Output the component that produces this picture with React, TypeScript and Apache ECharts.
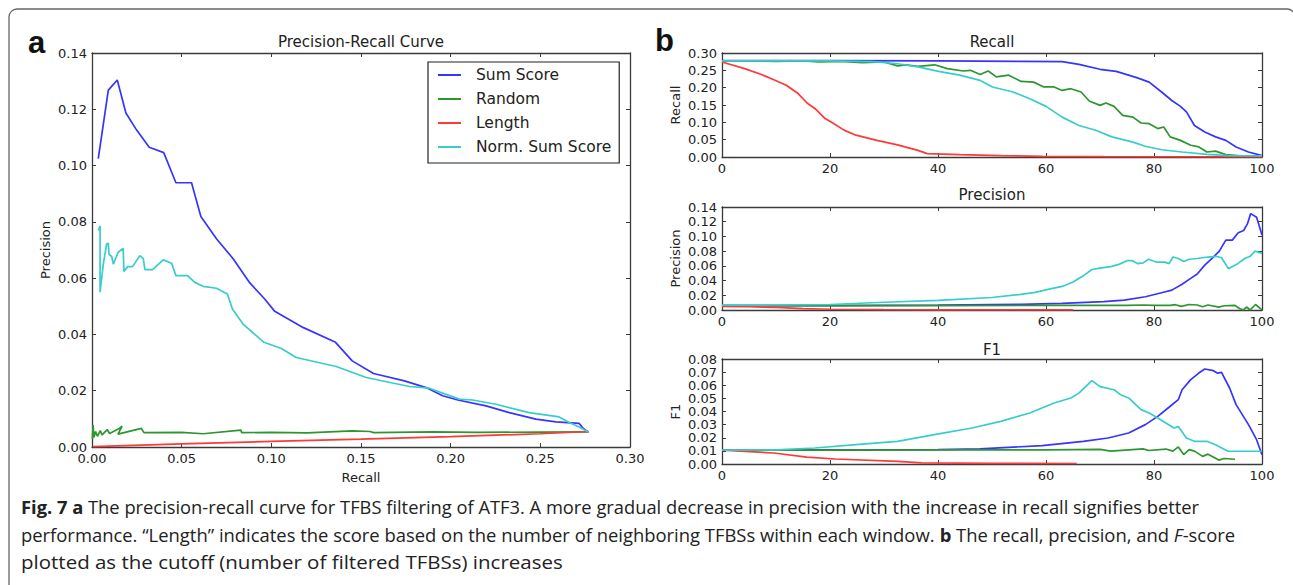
import React, { useEffect, useRef } from "react";
import * as echarts from "echarts";

// ---------- data ----------
const seriesNames = ["Sum Score", "Random", "Length", "Norm. Sum Score"];
const seriesColors = ["#3535ff", "#2e962e", "#ff3838", "#38cccc"];

// Panel a: [recall, precision]
const prSumScore = [
  [0.0035, 0.1025], [0.0091, 0.1268], [0.0141, 0.1304], [0.0189, 0.1187], [0.0249, 0.1126],
  [0.0319, 0.1065], [0.04, 0.1046], [0.0468, 0.0939], [0.0555, 0.0939], [0.0607, 0.0819],
  [0.0694, 0.074], [0.0787, 0.0669], [0.088, 0.0583], [0.0963, 0.0526], [0.1019, 0.0482],
  [0.1176, 0.0425], [0.1358, 0.0372], [0.1451, 0.0306], [0.157, 0.0261], [0.1742, 0.0235],
  [0.1872, 0.0209], [0.1955, 0.0182], [0.204, 0.0167], [0.2197, 0.0146], [0.2327, 0.0122],
  [0.2475, 0.0099], [0.2587, 0.0089], [0.2716, 0.0084], [0.2735, 0.0069], [0.2768, 0.0053],
];
const prRandom = [
  [0.0002, 0.0027], [0.0006, 0.0078], [0.0011, 0.0035], [0.002, 0.0055], [0.003, 0.0038],
  [0.0046, 0.0058], [0.0056, 0.0043], [0.0085, 0.0062], [0.0098, 0.0048], [0.0152, 0.0066],
  [0.0168, 0.0074], [0.0145, 0.0046], [0.0275, 0.0066], [0.029, 0.0051], [0.05, 0.0052],
  [0.062, 0.0047], [0.083, 0.006], [0.0835, 0.0051], [0.1, 0.0052], [0.12, 0.005],
  [0.145, 0.0057], [0.155, 0.0055], [0.157, 0.0051], [0.19, 0.0054], [0.215, 0.0052],
  [0.25, 0.0053], [0.277, 0.0054],
];
const prLength = [
  [0.0005, 0.0001], [0.05, 0.0011], [0.1, 0.002], [0.15, 0.0028], [0.2, 0.0037],
  [0.25, 0.0047], [0.277, 0.0055],
];
const prNormSum = [
  [0.0035, 0.077], [0.0045, 0.0785], [0.0045, 0.055], [0.0063, 0.065], [0.0082, 0.0722],
  [0.0091, 0.0724], [0.0095, 0.0684], [0.011, 0.0677], [0.0119, 0.065], [0.0146, 0.0692],
  [0.0174, 0.0706], [0.0178, 0.0624], [0.0199, 0.0641], [0.0226, 0.0641], [0.0267, 0.068],
  [0.0286, 0.0669], [0.0295, 0.063], [0.0338, 0.063], [0.0397, 0.0665], [0.0444, 0.0653],
  [0.0468, 0.0609], [0.0533, 0.0609], [0.0573, 0.0585], [0.062, 0.0571], [0.0694, 0.0564],
  [0.0755, 0.0544], [0.0783, 0.049], [0.0842, 0.0437], [0.0959, 0.0372], [0.1056, 0.035],
  [0.1139, 0.0318], [0.1362, 0.0286], [0.1529, 0.0247], [0.177, 0.0215], [0.1881, 0.0209],
  [0.2048, 0.017], [0.2122, 0.0167], [0.2253, 0.0152], [0.2438, 0.0122], [0.2605, 0.0107],
  [0.2661, 0.0087], [0.2716, 0.0071], [0.2768, 0.0053],
];

// Panel b: [cutoff, value]
const recSumScore = [
  [0, 0.278], [20, 0.278], [40, 0.277], [55, 0.276], [63, 0.275], [66.1, 0.267], [70, 0.253],
  [73, 0.247], [76.8, 0.229], [79.1, 0.216], [81.4, 0.1875], [83.3, 0.163], [84.9, 0.146],
  [86, 0.13], [87.5, 0.091], [89.4, 0.072], [91.4, 0.058], [93.3, 0.048], [95.2, 0.029],
  [97.5, 0.0144], [100, 0.004],
];
const recRandom = [
  [0, 0.277], [5, 0.277], [10, 0.276], [15, 0.277], [18, 0.274], [22, 0.276], [26, 0.272],
  [30, 0.274], [32.5, 0.263], [34, 0.266], [36.3, 0.2615], [39.4, 0.266], [41.7, 0.255],
  [44.7, 0.248], [46, 0.25], [47.8, 0.238], [49.3, 0.248], [50.8, 0.231], [53.1, 0.236],
  [55.4, 0.218], [57.7, 0.216], [59.6, 0.202], [61.5, 0.202], [63, 0.192], [64.6, 0.197],
  [66.5, 0.1875], [68, 0.1615], [70, 0.149], [71.1, 0.156], [72.6, 0.146], [74.2, 0.12],
  [76.1, 0.115], [77.6, 0.098], [79.1, 0.096], [80.7, 0.082], [81.8, 0.0865], [83, 0.058],
  [84.9, 0.048], [86.8, 0.034], [88.3, 0.029], [89.8, 0.0144], [91.4, 0.017], [93.3, 0.0067],
  [96, 0.003], [100, 0.002],
];
const recLength = [
  [0, 0.274], [4.2, 0.255], [7.3, 0.238], [9.6, 0.223], [11.9, 0.207], [14.1, 0.183],
  [15.8, 0.155], [17.2, 0.14], [19, 0.112], [20.3, 0.1], [22.6, 0.0775], [24.8, 0.063],
  [28.7, 0.048], [32.5, 0.035], [36.3, 0.019], [38, 0.0096], [44, 0.0067], [51.6, 0.004],
  [59.3, 0.002], [70.7, 0.001], [100, 0.0005],
];
const recNormSum = [
  [0, 0.277], [10, 0.277], [20, 0.277], [28, 0.275], [32.5, 0.269], [36.3, 0.26], [40.1, 0.247],
  [44, 0.236], [47.8, 0.221], [50.1, 0.202], [53.9, 0.1875], [57, 0.168], [60, 0.146],
  [63, 0.115], [66.1, 0.091], [69.2, 0.077], [72.2, 0.058], [76.1, 0.043], [78.4, 0.031],
  [81.4, 0.021], [85.2, 0.0144], [89.8, 0.0077], [93.7, 0.004], [100, 0.003],
];

const precSumScore = [
  [0, 0.006], [20, 0.006], [40, 0.0065], [55.4, 0.0077], [63, 0.009], [70.7, 0.0113],
  [74.5, 0.0135], [78.4, 0.018], [81.4, 0.0235], [83.3, 0.027], [85.2, 0.035], [86.8, 0.043],
  [88, 0.049], [89.4, 0.061], [91, 0.072], [92.1, 0.08], [93.3, 0.095], [94.5, 0.095],
  [95.6, 0.105], [96.6, 0.108], [97.3, 0.117], [97.9, 0.131], [99, 0.126], [100, 0.102],
];
const precRandom = [
  [0, 0.006], [20, 0.006], [40, 0.006], [60, 0.0062], [75, 0.0062], [78, 0.0068], [80, 0.0062],
  [83, 0.0062], [84, 0.0072], [85, 0.005], [86.5, 0.0075], [88, 0.0068], [89, 0.0045],
  [90, 0.0068], [92, 0.004], [93, 0.0058], [95, 0.0063], [95.8, 0.002], [96.5, 0.0002],
  [97.2, 0.004], [97.8, 0.0], [98.8, 0.0075], [100, 0.0002],
];
const precLength = [
  [0, 0.005], [5, 0.0045], [10, 0.0035], [15, 0.002], [20, 0.001], [30, 0.0005],
  [40, 0.0002], [65, 0.0001],
];
const precNormSum = [
  [0, 0.0065], [10, 0.0068], [20, 0.0075], [30, 0.0105], [40, 0.013], [50, 0.017], [55, 0.021],
  [58, 0.024], [61, 0.029], [63, 0.032], [65, 0.038], [67, 0.047], [68.5, 0.055], [70, 0.057],
  [72, 0.059], [73.5, 0.062], [75, 0.067], [76, 0.067], [77, 0.063], [78, 0.064], [79, 0.069],
  [80.5, 0.065], [82, 0.065], [82.8, 0.063], [83.5, 0.072], [84.5, 0.07], [85.5, 0.066],
  [86.5, 0.069], [88, 0.07], [90, 0.072], [91.5, 0.073], [92.5, 0.071], [93.8, 0.056],
  [95.5, 0.063], [96.8, 0.07], [97.8, 0.073], [98.7, 0.08], [100, 0.077],
];

const f1SumScore = [
  [0, 0.0105], [20, 0.0107], [40, 0.011], [47.8, 0.0115], [59.3, 0.014], [66.9, 0.0173],
  [71.5, 0.0198], [75.3, 0.0236], [78.4, 0.03], [80.7, 0.0363], [83, 0.044], [84.5, 0.049],
  [85.2, 0.0566], [86.8, 0.0643], [88.3, 0.0693], [89.4, 0.0724], [91, 0.0711], [91.7, 0.0693],
  [92.5, 0.0698], [94, 0.0579], [95.2, 0.0452], [97.5, 0.03], [99, 0.0185], [100, 0.0071],
];
const f1Random = [
  [0, 0.0105], [20, 0.0105], [40, 0.0107], [60, 0.0108], [70, 0.0112], [72, 0.0098],
  [78, 0.0115], [79, 0.0103], [82.2, 0.0114], [83.5, 0.0098], [84.5, 0.013], [85.5, 0.0072],
  [86.5, 0.011], [87.5, 0.0098], [89, 0.0058], [90, 0.0075], [92, 0.003], [93, 0.0042],
  [95, 0.0036],
];
const f1Length = [
  [0, 0.0105], [9.6, 0.0084], [15.7, 0.0053], [21, 0.0038], [32.5, 0.002], [37, 0.0008],
  [50, 0.0005], [65.7, 0.0004],
];
const f1NormSum = [
  [0, 0.0105], [10, 0.0108], [17.2, 0.0122], [24.8, 0.0147], [32.5, 0.0173], [40.1, 0.0229],
  [46.3, 0.0274], [51.6, 0.0325], [57, 0.0389], [61.5, 0.0465], [64.6, 0.0503], [66.1, 0.054],
  [68.5, 0.0635], [70, 0.059], [72.6, 0.0566], [73.8, 0.0528], [75.3, 0.0503], [77.6, 0.0414],
  [79.1, 0.0389], [80.7, 0.035], [82.2, 0.0312], [83.7, 0.0274], [84.5, 0.0285], [86, 0.0198],
  [87.5, 0.0173], [89.8, 0.0173], [91.4, 0.0147], [93.7, 0.0097], [100, 0.0097],
];

const panelA = [prSumScore, prRandom, prLength, prNormSum];
const panelRecall = [recSumScore, recRandom, recLength, recNormSum];
const panelPrecision = [precSumScore, precRandom, precLength, precNormSum];
const panelF1 = [f1SumScore, f1Random, f1Length, f1NormSum];

const captionLine1Bold = "Fig. 7 a";
const captionLine1 = " The precision-recall curve for TFBS filtering of ATF3. A more gradual decrease in precision with the increase in recall signifies better";
const captionLine2a = "performance. \u201cLength\u201d indicates the score based on the number of neighboring TFBSs within each window. ";
const captionLine2b = "b";
const captionLine2c = " The recall, precision, and ";
const captionLine2d = "F";
const captionLine2e = "-score";
const captionLine3 = "plotted as the cutoff (number of filtered TFBSs) increases";

// ---------- chart ----------
const FONT = "DejaVu Sans";
const AXC = "#3a3a3a";
const TXT = "#222";

function axisPair(kind: "x" | "y", grid: number, min: number, max: number, interval: number, digits: number, name: string, nameGap: number) {
  const base = {
    type: "value",
    gridIndex: grid,
    min, max, interval,
    splitLine: { show: false },
    axisLine: { show: true, onZero: false, lineStyle: { color: AXC, width: 1.3 } },
    axisTick: { show: true, inside: true, length: 4, lineStyle: { color: AXC, width: 1 } },
  };
  const main = {
    ...base,
    position: kind === "x" ? "bottom" : "left",
    name,
    nameLocation: "middle",
    nameGap,
    nameTextStyle: { fontFamily: FONT, fontSize: 13, color: TXT },
    axisLabel: {
      show: true, margin: 5, fontFamily: FONT, fontSize: 13, color: TXT,
      formatter: (v: number) => v.toFixed(digits),
    },
  };
  const other = {
    ...base,
    position: kind === "x" ? "top" : "right",
    axisLabel: { show: false },
  };
  return [main, other];
}

function seriesFor(datasets: number[][][], grid: number) {
  return datasets.map((d, i) => ({
    type: "line",
    name: seriesNames[i],
    data: d,
    xAxisIndex: grid * 2,
    yAxisIndex: grid * 2,
    symbol: "none",
    showSymbol: false,
    silent: true,
    lineStyle: { color: seriesColors[i], width: 1.7 },
    itemStyle: { color: seriesColors[i] },
    z: 2 + i,
  }));
}

export default function App() {
  const ref = useRef<HTMLDivElement>(null);
  useEffect(() => {
    document.body.style.margin = "0";
    const chart = echarts.init(ref.current!, null, { renderer: "svg" });

    // caption width fitting, one scale per line
    const ctx = document.createElement("canvas").getContext("2d")!;
    const capSize = 17.5;
    const mw = (t: string, w = "normal", s = "normal") => {
      ctx.font = `${s} ${w} ${capSize}px "Open Sans"`;
      return ctx.measureText(t).width;
    };
    const capLeft = 21;
    const s1 = (1200 - capLeft) / (mw(captionLine1Bold, "bold") + mw(captionLine1));
    const s2 = (1235 - capLeft) / (mw(captionLine2a) + mw(captionLine2b, "bold") + mw(captionLine2c) + mw(captionLine2d, "normal", "italic") + mw(captionLine2e));
    const s3 = (563 - capLeft) / mw(captionLine3);

    const grids = [
      { left: 92, top: 53, width: 538, height: 394 },
      { left: 722, top: 53, width: 540, height: 104 },
      { left: 722, top: 207, width: 540, height: 103 },
      { left: 722, top: 359, width: 540, height: 105 },
    ];

    const xAxis = [
      ...axisPair("x", 0, 0, 0.3, 0.05, 2, "Recall", 24),
      ...axisPair("x", 1, 0, 100, 20, 0, "", 0),
      ...axisPair("x", 2, 0, 100, 20, 0, "", 0),
      ...axisPair("x", 3, 0, 100, 20, 0, "", 0),
    ];
    const yAxis = [
      ...axisPair("y", 0, 0, 0.14, 0.02, 2, "Precision", 40),
      ...axisPair("y", 1, 0, 0.3, 0.05, 2, "Recall", 40),
      ...axisPair("y", 2, 0, 0.14, 0.02, 2, "Precision", 40),
      ...axisPair("y", 3, 0, 0.08, 0.01, 2, "F1", 40),
    ];

    const capStyle = { fontFamily: "Open Sans", fontSize: capSize, fill: "#222" };
    const option = {
      animation: false,
      backgroundColor: "#fff",
      grid: grids.map((g) => ({ ...g, containLabel: false })),
      xAxis,
      yAxis,
      legend: {
        orient: "vertical",
        left: 428,
        top: 62,
        data: seriesNames.map((n) => ({ name: n, icon: "rect" })),
        itemWidth: 23,
        itemHeight: 2,
        itemGap: 8,
        borderColor: "#222",
        borderWidth: 1.2,
        padding: [5, 8, 8, 10],
        backgroundColor: "#fff",
        selectedMode: false,
        textStyle: { fontFamily: FONT, fontSize: 15.5, color: TXT, lineHeight: 15, padding: [0, 0, 0, 10] },
      },
      series: [
        ...seriesFor(panelA, 0),
        ...seriesFor(panelRecall, 1),
        ...seriesFor(panelPrecision, 2),
        ...seriesFor(panelF1, 3),
      ],
      graphic: [
        {
          type: "rect", silent: true, z: 0,
          shape: { x: 9, y: 9, width: 1286, height: 700, r: 8 },
          style: { fill: "none", stroke: "#666", lineWidth: 1.3 },
        },
        { type: "text", x: 28, y: 42, style: { text: "a", fontFamily: "Liberation Sans", fontWeight: "bold", fontSize: 31, fill: "#111", verticalAlign: "middle" } },
        { type: "text", x: 655, y: 40, style: { text: "b", fontFamily: "Liberation Sans", fontWeight: "bold", fontSize: 31, fill: "#111", verticalAlign: "middle" } },
        { type: "text", x: 361, y: 42, style: { text: "Precision-Recall Curve", fontFamily: FONT, fontSize: 15, fill: TXT, align: "center", verticalAlign: "middle" } },
        { type: "text", x: 992, y: 42, style: { text: "Recall", fontFamily: FONT, fontSize: 15, fill: TXT, align: "center", verticalAlign: "middle" } },
        { type: "text", x: 992, y: 195, style: { text: "Precision", fontFamily: FONT, fontSize: 15, fill: TXT, align: "center", verticalAlign: "middle" } },
        { type: "text", x: 992, y: 350, style: { text: "F1", fontFamily: FONT, fontSize: 15, fill: TXT, align: "center", verticalAlign: "middle" } },
        {
          type: "text", x: capLeft, y: 507, scaleX: s1,
          style: {
            ...capStyle, verticalAlign: "middle",
            text: `{b|${captionLine1Bold}}${captionLine1}`,
            rich: { b: { fontWeight: "bold", fontFamily: "Open Sans", fontSize: capSize, fill: "#222" } },
          },
        },
        {
          type: "text", x: capLeft, y: 535, scaleX: s2,
          style: {
            ...capStyle, verticalAlign: "middle",
            text: `${captionLine2a}{b|${captionLine2b}}${captionLine2c}{i|${captionLine2d}}${captionLine2e}`,
            rich: {
              b: { fontWeight: "bold", fontFamily: "Open Sans", fontSize: capSize, fill: "#222" },
              i: { fontStyle: "italic", fontFamily: "Open Sans", fontSize: capSize, fill: "#222" },
            },
          },
        },
        {
          type: "text", x: capLeft, y: 563, scaleX: s3,
          style: { ...capStyle, verticalAlign: "middle", text: captionLine3 },
        },
      ],
    };
    chart.setOption(option as any);
    return () => chart.dispose();
  }, []);
  return <div ref={ref} style={{ width: 1293, height: 585 }} />;
}
